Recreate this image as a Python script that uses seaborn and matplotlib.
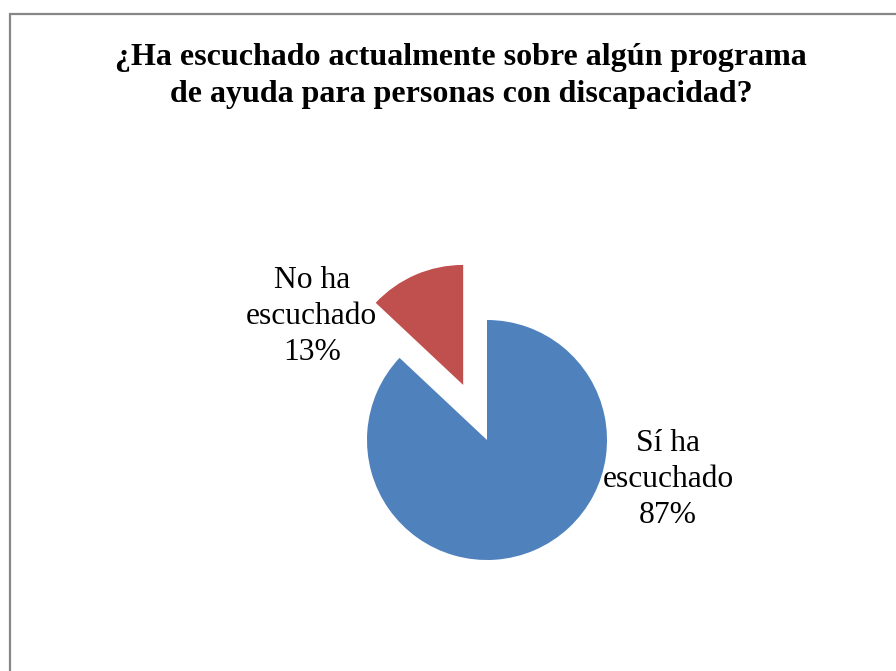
import matplotlib
matplotlib.use("Agg")
import matplotlib.pyplot as plt
import seaborn as sns
from matplotlib.patches import Rectangle

categories = ["Sí ha\nescuchado", "No ha\nescuchado"]
values = [87, 13]
colors = ["#4F81BD", "#C0504D"]
title = "¿Ha escuchado actualmente sobre algún programa\nde ayuda para personas con discapacidad?"

sns.set_theme(style="white")
plt.rcParams["font.family"] = ["Liberation Serif", "DejaVu Serif"]
plt.rcParams["text.color"] = "black"

W, H = 896, 671
fig = plt.figure(figsize=(W / 100, H / 100), dpi=100)
fig.patch.set_facecolor("white")

# chart border (extends beyond right/bottom of the image)
fig.add_artist(Rectangle((10 / W, -0.1), 1.2, 1 - 14 / H + 0.1, transform=fig.transFigure,
                         fill=False, edgecolor="#878787", linewidth=1.6))

fig.text(461 / W, 1 - 76 / H, title, ha="center", va="center", fontsize=23,
         fontweight="bold", linespacing=1.37, color="black")

cx, cy, half = 487, 440, 180
ax = fig.add_axes([(cx - half) / W, 1 - (cy + half) / H, 2 * half / W, 2 * half / H])
wedges, _ = ax.pie(values, colors=colors, startangle=90, counterclock=False,
                   explode=[0, 0.5], radius=1, wedgeprops=dict(linewidth=0))
ax.set_xlim(-1.5, 1.5)
ax.set_ylim(-1.5, 1.5)
ax.set_aspect("equal")
ax.axis("off")

label_pos = [(1.51, -0.33), (-1.46, 1.03)]
for (x, y), cat, v in zip(label_pos, categories, values):
    ax.text(x, y, f"{cat}\n{v}%", ha="center", va="center", fontsize=22.7,
            linespacing=1.33, clip_on=False, color="black")

fig.savefig("out.png", dpi=100)
